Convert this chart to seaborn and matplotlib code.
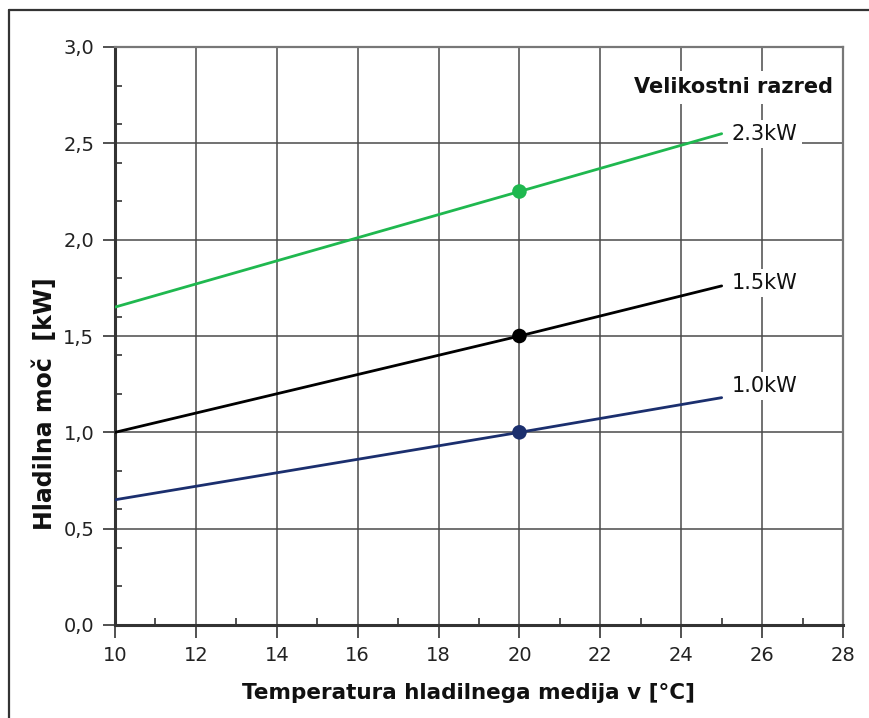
import matplotlib
matplotlib.use("Agg")
import matplotlib.pyplot as plt
from matplotlib.ticker import MultipleLocator, FixedLocator, FixedFormatter
from matplotlib.lines import Line2D
import seaborn as sns
import pandas as pd

# ---- data ----
temps = [10, 20, 25]
p_23 = [1.65, 2.25, 2.55]
p_15 = [1.00, 1.50, 1.76]
p_10 = [0.65, 1.00, 1.18]
series_names = ["2.3kW", "1.5kW", "1.0kW"]
series_colors = ["#1fb84f", "#000000", "#1b2f6e"]
marker_x = 20
x_ticks = [10, 12, 14, 16, 18, 20, 22, 24, 26, 28]
y_ticks = [0.0, 0.5, 1.0, 1.5, 2.0, 2.5, 3.0]
y_tick_labels = ["0,0", "0,5", "1,0", "1,5", "2,0", "2,5", "3,0"]
x_label = "Temperatura hladilnega medija v [°C]"
y_label = "Hladilna moč  [kW]"
legend_title = "Velikostni razred"

rows = []
for name, vals in zip(series_names, [p_23, p_15, p_10]):
    for t, v in zip(temps, vals):
        rows.append({"T": t, "P": v, "razred": name})
df = pd.DataFrame(rows)

sns.set_theme(style="white")
plt.rcParams["font.family"] = ["DejaVu Sans"]

fig = plt.figure(figsize=(8.69, 7.18), dpi=100)
ax = fig.add_axes([115 / 869, 1 - 625 / 718, 728 / 869, 578 / 718])

pal = dict(zip(series_names, series_colors))
sns.lineplot(data=df, x="T", y="P", hue="razred", palette=pal,
             ax=ax, legend=False, linewidth=2.0, zorder=3)
pts = df[df["T"] == marker_x]
sns.scatterplot(data=pts, x="T", y="P", hue="razred", palette=pal,
                ax=ax, legend=False, s=110, edgecolor="none", zorder=4)

ax.set_xlim(10, 28)
ax.set_ylim(0, 3.0)
ax.xaxis.set_major_locator(FixedLocator(x_ticks))
ax.yaxis.set_major_locator(FixedLocator(y_ticks))
ax.yaxis.set_major_formatter(FixedFormatter(y_tick_labels))
ax.xaxis.set_minor_locator(MultipleLocator(1))
ax.yaxis.set_minor_locator(MultipleLocator(0.2))

ax.grid(True, which="major", color="#4a4a4a", linewidth=1.1, zorder=1)
ax.tick_params(axis="both", which="major", direction="out", length=9, width=1.2,
               color="#333333", labelsize=14, labelcolor="#222222", pad=6,
               bottom=True, left=True)
ax.tick_params(axis="both", which="minor", direction="in", length=5, width=1.2,
               color="#333333", bottom=True, left=True)

for side in ["left", "bottom"]:
    ax.spines[side].set_color("#333333")
    ax.spines[side].set_linewidth(2.2)
for side in ["top", "right"]:
    ax.spines[side].set_color("#777777")
    ax.spines[side].set_linewidth(1.6)
    ax.spines[side].set_visible(True)

ax.set_xlabel(x_label, fontsize=15.5, fontweight="bold", color="#111111")
ax.xaxis.label.set_va("center")
ax.xaxis.set_label_coords((468 - 115) / 728, (625 - 693) / 578)
ax.set_ylabel(y_label, fontsize=17, fontweight="bold", color="#111111")
ax.yaxis.label.set_va("center")
ax.yaxis.set_label_coords((45 - 115) / 728, (625 - 404) / 578)

# end labels
label_y_off = [0.0, 0.015, 0.06]
for name, vals, off in zip(series_names, [p_23, p_15, p_10], label_y_off):
    ax.text(25.25, vals[-1] + off, name, fontsize=15, color="#111111", va="center", ha="left",
            bbox=dict(boxstyle="square,pad=0.2", facecolor="white", edgecolor="none"), zorder=5)
ax.text(27.75, 2.79, legend_title, fontsize=15, fontweight="bold", color="#111111",
        va="center", ha="right",
        bbox=dict(boxstyle="square,pad=0.3", facecolor="white", edgecolor="none"), zorder=5)

# outer frame (top and left edges)
fig.add_artist(Line2D([9 / 869, 9 / 869], [0, 1 - 10 / 718], transform=fig.transFigure,
                      color="#333333", linewidth=1.6))
fig.add_artist(Line2D([9 / 869, 1], [1 - 10 / 718, 1 - 10 / 718], transform=fig.transFigure,
                      color="#333333", linewidth=1.6))

fig.savefig("out.png", dpi=100)
